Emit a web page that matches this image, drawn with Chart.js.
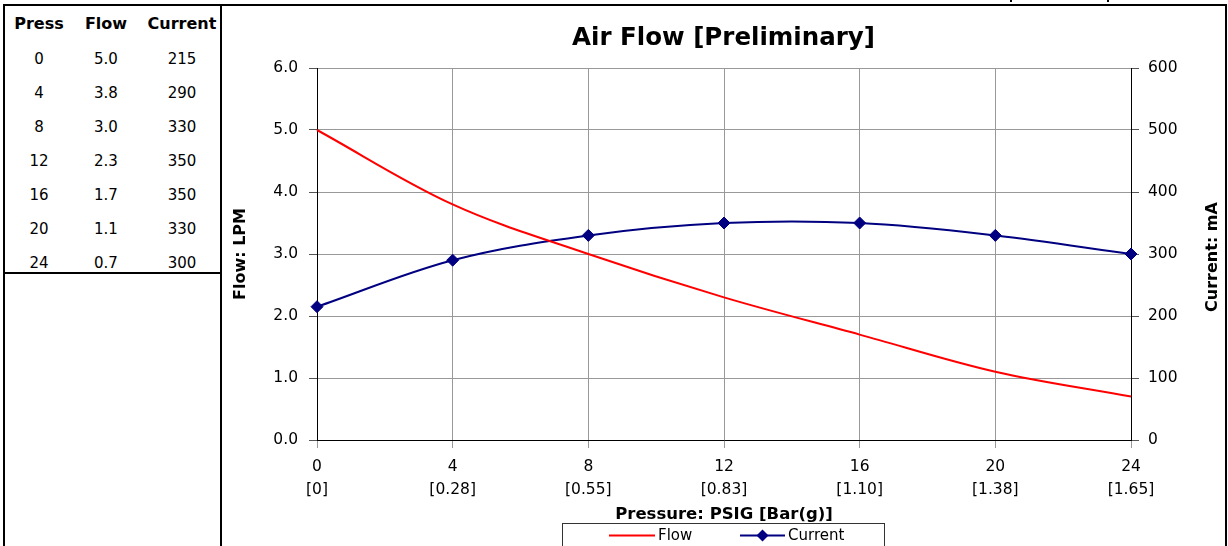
<!DOCTYPE html>
<html>
<head>
<meta charset="utf-8">
<script src="https://cdn.jsdelivr.net/npm/chart.js@4/dist/chart.umd.min.js"></script>
<style>
  html, body { margin:0; padding:0; background:#fff; }
  body { width:1228px; height:546px; overflow:hidden; position:relative; font-family:'DejaVu Sans', sans-serif; color:#000; }
  #left { position:absolute; left:3px; top:4px; width:215px; height:560px; border-left:2px solid #000; border-top:2px solid #000; border-right:2px solid #000; }
  #tblLine { position:absolute; left:3px; top:272px; width:219px; height:2px; background:#000; }
  #frame { position:absolute; left:222px; top:4px; width:1003px; height:560px; border-top:2px solid #000; border-right:2px solid #000; }
  #topbox { position:absolute; left:1010px; top:-20px; width:95px; height:22px; border-left:2px solid #000; border-right:2px solid #000; }
  .cell { position:absolute; width:90px; margin-left:-45px; text-align:center; font-size:15px; line-height:20px; white-space:nowrap; }
  .hdr { font-weight:bold; font-size:16px; }
  #wrap { position:absolute; left:222px; top:6px; width:1003px; height:540px; }
</style>
</head>
<body>
<div id="left"></div>
<div id="tblLine"></div>
<div id="frame"></div>
<div id="topbox"></div>
<div id="table"></div>
<div id="wrap"><canvas id="c" width="1003" height="540"></canvas></div>
<script>
// ---- data ----
const headers = ['Press', 'Flow', 'Current'];
const pressurePsig = [0, 4, 8, 12, 16, 20, 24];
const pressureBar = ['0', '0.28', '0.55', '0.83', '1.10', '1.38', '1.65'];
const flowLpm = [5.0, 3.8, 3.0, 2.3, 1.7, 1.1, 0.7];
const currentMa = [215, 290, 330, 350, 350, 330, 300];
const flowTicks = [0, 1, 2, 3, 4, 5, 6];
const currentTicks = [0, 100, 200, 300, 400, 500, 600];
const rightAxisTitle = 'Current: mA';

// ---- side table ----
const colX = [39, 106, 182];
const tbl = document.getElementById('table');
function addCell(txt, x, yc, cls) {
  const d = document.createElement('div');
  d.className = 'cell' + (cls ? ' ' + cls : '');
  d.style.left = x + 'px';
  d.style.top = (yc - 10) + 'px';
  d.textContent = txt;
  tbl.appendChild(d);
}
headers.forEach((h, i) => addCell(h, colX[i], 24, 'hdr'));
pressurePsig.forEach((p, r) => {
  const yc = 59 + r * 34;
  addCell(String(p), colX[0], yc);
  addCell(flowLpm[r].toFixed(1), colX[1], yc);
  addCell(String(currentMa[r]), colX[2], yc);
});

// ---- chart ----
const FONT = 'DejaVu Sans';
const labels = pressurePsig.map((p, i) => [String(p), '[' + pressureBar[i] + ']']);

const boxLegend = {
  id: 'boxLegend',
  afterDraw(chart) {
    const ctx = chart.ctx;
    ctx.save();
    // right axis title, reading bottom-to-top
    const ca = chart.chartArea;
    ctx.save();
    ctx.translate(991, (ca.top + ca.bottom) / 2 + 3);
    ctx.rotate(-Math.PI / 2);
    ctx.fillStyle = '#000';
    ctx.font = 'bold 16px "' + FONT + '"';
    ctx.textAlign = 'center';
    ctx.textBaseline = 'middle';
    ctx.fillText(rightAxisTitle, 0, 0);
    ctx.restore();

    ctx.strokeStyle = '#333';
    ctx.lineWidth = 1;
    ctx.strokeRect(340.5, 517.5, 322, 40);
    const slots = [{x1: 387, x2: 433, tx: 436}, {x1: 518, x2: 563, tx: 566}];
    const y = 529.5;
    chart.data.datasets.forEach((ds, i) => {
      const s = slots[i];
      ctx.strokeStyle = ds.borderColor;
      ctx.lineWidth = 2;
      ctx.beginPath(); ctx.moveTo(s.x1, y); ctx.lineTo(s.x2, y); ctx.stroke();
      if (ds.pointRadius > 0) {
        const cx = (s.x1 + s.x2) / 2, r = ds.pointRadius;
        ctx.fillStyle = ds.pointBackgroundColor;
        ctx.beginPath();
        ctx.moveTo(cx, y - r); ctx.lineTo(cx + r, y); ctx.lineTo(cx, y + r); ctx.lineTo(cx - r, y);
        ctx.closePath(); ctx.fill();
      }
      ctx.fillStyle = '#000';
      ctx.font = '15px "' + FONT + '"';
      ctx.textBaseline = 'middle';
      ctx.textAlign = 'left';
      ctx.fillText(ds.label, s.tx, y + 1);
    });
    ctx.restore();
  }
};

new Chart(document.getElementById('c'), {
  type: 'line',
  data: {
    labels: labels,
    datasets: [
      {
        label: 'Flow',
        data: flowLpm,
        yAxisID: 'y',
        borderColor: '#FF0000',
        backgroundColor: '#FF0000',
        borderWidth: 2,
        pointRadius: 0,
        pointHoverRadius: 0,
        tension: 0.35,
        fill: false
      },
      {
        label: 'Current',
        data: currentMa,
        yAxisID: 'y1',
        borderColor: '#000080',
        backgroundColor: '#000080',
        pointBackgroundColor: '#000080',
        pointBorderColor: '#000080',
        borderWidth: 2,
        pointStyle: 'rectRot',
        pointRadius: 6,
        pointBorderWidth: 1,
        tension: 0.35,
        fill: false,
        clip: false
      }
    ]
  },
  options: {
    responsive: false,
    animation: false,
    devicePixelRatio: 1,
    events: [],
    layout: { padding: 0 },
    plugins: {
      legend: { display: false },
      tooltip: { enabled: false },
      title: {
        display: true,
        text: 'Air Flow [Preliminary]',
        color: '#000',
        font: { family: FONT, size: 24.5, weight: 'bold' },
        padding: { top: 17.5, bottom: 15.1 }
      }
    },
    scales: {
      x: {
        type: 'category',
        offset: false,
        grid: { offset: false, color: '#999', tickColor: '#999', tickLength: 8, z: -1 },
        border: { display: true, color: '#000', width: 1 },
        ticks: { color: '#000', font: { family: FONT, size: 15.5, lineHeight: 1.5 }, padding: 7, maxRotation: 0, autoSkip: false },
        title: { display: true, text: 'Pressure: PSIG [Bar(g)]', color: '#000', font: { family: FONT, size: 16.5, weight: 'bold' }, padding: { top: 0, bottom: 21 } },
        afterFit: (s) => { s.height = 106; }
      },
      y: {
        position: 'left',
        min: 0, max: 6,
        afterBuildTicks: (s) => { s.ticks = flowTicks.map(v => ({ value: v })); },
        grid: { color: '#999', tickColor: '#555', tickLength: 8, z: -1 },
        border: { display: true, color: '#000', width: 1 },
        ticks: { color: '#000', font: { family: FONT, size: 15.5 }, padding: 11, callback: (v) => Number(v).toFixed(1) },
        title: { display: true, text: 'Flow: LPM', color: '#000', font: { family: FONT, size: 16, weight: 'bold' }, padding: { top: 9.4, bottom: 0 } },
        afterFit: (s) => { s.width = 95; }
      },
      y1: {
        position: 'right',
        min: 0, max: 600,
        afterBuildTicks: (s) => { s.ticks = currentTicks.map(v => ({ value: v })); },
        grid: { drawOnChartArea: false, tickColor: '#555', tickLength: 8, z: -1 },
        border: { display: true, color: '#000', width: 1 },
        ticks: { color: '#000', font: { family: FONT, size: 15.5 }, padding: 9, callback: (v) => String(v) },
        title: { display: false },
        afterFit: (s) => { s.width = 94; }
      }
    }
  },
  plugins: [boxLegend]
});
</script>
</body>
</html>
